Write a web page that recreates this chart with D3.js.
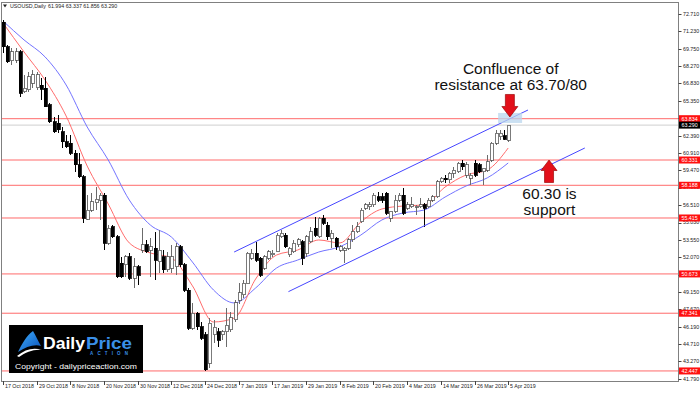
<!DOCTYPE html>
<html><head><meta charset="utf-8">
<script src="https://cdn.jsdelivr.net/npm/d3@7"></script>
<style>
body{margin:0;background:#fff}
svg{display:block}
text{font-family:"Liberation Sans",Arial,sans-serif}
</style>
</head><body>
<svg id="c" width="700" height="393"></svg>
<script>
// ---------------- DATA ----------------
const symbolTitle = "USOUSD,Daily";
const lastOHLC = [61.994, 63.337, 61.856, 63.290];

const open = [72.03,69.94,68.73,68.81,69.51,66.12,66.27,66.83,66.44,66.69,
66.41,65.00,63.58,63.44,62.73,61.88,61.75,60.89,59.91,58.92,
55.30,56.09,56.71,56.94,57.36,53.27,54.68,53.83,51.57,51.43,
52.13,50.30,51.29,52.70,53.13,52.70,52.85,51.71,52.13,51.01,
51.15,51.29,52.98,51.43,49.31,46.06,47.33,46.20,45.50,43.12,
45.50,45.75,45.50,45.75,45.92,46.77,48.46,48.89,49.90,52.00,
52.42,52.00,51.15,52.00,52.28,52.56,53.83,53.97,52.28,52.56,
53.13,53.40,52.42,53.40,54.54,53.83,55.39,54.82,53.69,53.69,
52.70,52.70,52.85,53.55,54.25,55.10,56.24,56.37,56.52,57.22,
57.22,57.51,55.39,55.95,56.94,57.36,56.24,56.37,56.37,56.37,
56.52,56.37,56.94,57.22,58.49,58.78,58.64,59.20,59.34,60.05,
59.06,58.78,60.05,59.91,59.34,59.48,60.33,61.75,62.31,62.39,
61.994];
const high = [72.20,70.08,69.83,69.83,69.66,67.54,67.82,67.96,67.82,67.26,
67.40,65.14,64.00,64.15,63.16,62.45,62.45,61.18,60.89,59.06,
57.36,57.51,58.07,57.51,57.51,54.82,54.82,53.97,52.13,52.28,
52.42,52.00,51.43,54.54,53.55,53.69,54.25,54.40,52.70,52.56,
53.13,53.27,53.13,51.57,49.45,48.18,47.47,46.62,45.78,46.94,
46.77,46.09,45.92,47.78,47.45,48.46,49.90,50.16,52.56,52.76,
53.40,52.13,52.28,52.70,52.70,54.12,54.40,54.12,52.98,53.55,
53.69,53.55,53.97,54.68,55.52,55.52,55.67,55.10,54.40,53.83,
53.13,52.98,53.69,54.82,55.10,56.24,56.66,56.80,57.51,57.64,
57.51,57.64,55.95,57.36,57.51,57.93,56.80,57.22,56.52,57.08,
56.66,57.08,57.36,58.64,58.92,59.06,59.34,59.76,60.19,60.33,
60.19,59.20,60.33,60.05,59.63,60.76,61.88,62.88,62.88,62.88,
63.337];
const low = [69.40,68.53,68.39,68.56,65.70,65.99,66.12,66.41,66.27,65.42,
64.80,63.44,62.65,62.60,61.32,61.32,60.76,59.34,58.78,54.97,
55.25,55.95,56.09,55.25,52.70,53.13,53.69,50.30,50.30,50.44,
50.16,49.45,49.73,52.42,52.42,50.44,50.16,50.73,50.73,50.86,
50.73,50.58,51.29,49.17,45.92,45.92,45.92,45.07,42.45,42.70,
44.82,44.48,45.07,44.48,45.75,46.60,48.12,48.63,49.90,51.85,
51.71,50.44,51.01,51.85,52.13,52.56,53.69,52.85,52.13,52.42,
52.98,51.43,52.13,53.27,53.83,53.69,54.82,53.55,52.85,52.70,
52.56,51.57,52.70,53.40,54.12,54.97,56.09,56.09,56.37,56.80,
56.66,55.67,55.10,55.81,56.80,55.67,56.09,56.24,55.67,56.24,
54.68,56.24,56.80,57.08,58.36,58.36,58.36,58.78,59.20,59.48,
58.78,58.21,58.92,59.20,58.21,59.34,60.19,61.60,62.03,62.03,
61.856];
const close = [69.94,68.67,69.49,69.49,65.99,66.41,67.40,67.54,67.54,66.35,
64.85,63.58,62.73,62.88,61.88,61.46,60.89,59.91,58.92,55.39,
56.09,56.80,57.00,57.36,53.27,54.54,53.83,50.44,50.44,52.13,
50.30,51.29,50.58,53.13,52.56,52.98,51.85,52.70,51.01,52.13,
52.13,52.98,51.43,49.31,46.06,47.33,46.20,45.22,42.53,46.51,
46.17,45.07,45.75,46.34,46.94,48.21,49.06,49.90,52.42,52.42,
51.85,50.58,52.13,52.56,52.42,53.97,54.12,52.98,52.85,53.27,
53.55,52.00,53.83,54.25,53.97,55.39,54.97,53.83,54.12,52.98,
52.98,52.85,53.55,54.25,54.68,56.09,56.52,56.52,57.36,56.94,
56.94,55.81,55.95,56.94,57.36,55.81,56.52,56.52,56.39,56.52,
56.24,56.94,57.22,58.49,58.78,58.64,59.20,59.48,60.05,59.76,
59.91,59.06,59.06,59.34,59.63,60.19,61.75,62.60,62.60,62.09,
63.290];

// moving averages sampled every 5 bars
const maIdx  = [0,5,10,15,20,25,30,35,40,45,50,55,60,65,70,75,80,85,90,95,100,105,110,115,120];
const maFast = [71.95,69.49,67.11,64.06,59.82,56.60,53.30,52.45,52.03,49.66,46.60,46.94,50.24,52.28,52.70,53.55,53.30,55.08,56.18,56.43,56.52,58.04,59.06,59.48,61.35];
const maSlow = [72.12,70.51,69.07,66.69,63.13,60.33,56.94,54.82,53.80,51.68,49.31,48.21,49.48,51.18,51.85,52.53,52.98,53.97,55.25,55.84,56.09,57.19,58.13,58.81,60.08];

// horizontal levels
const levels = [63.834, 60.331, 58.188, 55.415, 50.673, 47.341, 42.447];
const currentPrice = 63.290;

// axis ticks
const yTicks = [72.710,71.230,69.750,68.270,66.830,65.350,63.870,62.390,60.910,59.470,57.990,56.510,55.030,53.550,52.070,50.590,49.150,47.670,46.190,44.710,43.270,41.790];
const xLabelIdx = [0,8,16,24,32,40,48,56,64,72,80,88,96,104,112,120];
const xLabels = ["17 Oct 2018","29 Oct 2018","8 Nov 2018","20 Nov 2018","30 Nov 2018","12 Dec 2018","24 Dec 2018","7 Jan 2019","17 Jan 2019","29 Jan 2019","8 Feb 2019","20 Feb 2019","4 Mar 2019","14 Mar 2019","26 Mar 2019","5 Apr 2019"];

// channel trend lines [barIndex, price]
const upperChannel = [[54.9, 52.53],[124.7, 64.57]];
const lowerChannel = [[67.8, 49.17],[138.2, 61.35]];
// resistance zone box [barFrom, barTo, priceLow, priceHigh]
const zoneBox = [117.6, 123.3, 63.47, 64.32];
// arrows: tip [barIndex, price]
const downArrowTip = [120.4, 63.98];
const upArrowTip = [129.7, 60.33];
const note1 = ["Confluence of","resistance at 63.70/80"];
const note1Pos = [120.6, 67.66];
const note2 = ["60.30 is","support"];
const note2Pos = [129.8, 57.05];

// ---------------- CHART ----------------
const svg = d3.select("#c");
const L = 1, T = 2, R = 678.5, B = 381;
const x = d3.scaleLinear().domain([0,120]).range([3, 508.2]);
const y = d3.scaleLinear().domain([41.79, 72.71]).range([378.7, 14]);

svg.append("rect").attr("width",700).attr("height",393).attr("fill","#fff");

const plot = svg.append("g");
plot.append("clipPath").attr("id","clip").append("rect")
  .attr("x",L).attr("y",T).attr("width",R-L).attr("height",B-T);
const g = plot.append("g").attr("clip-path","url(#clip)");

// level lines
g.selectAll("line.lvl").data(levels).join("line")
  .attr("x1",L).attr("x2",R)
  .attr("y1",d=>y(d)).attr("y2",d=>y(d))
  .attr("stroke","#ff6a6a").attr("stroke-width",1);
g.append("line").attr("x1",L).attr("x2",R)
  .attr("y1",y(currentPrice)).attr("y2",y(currentPrice))
  .attr("stroke","#cfcfcf").attr("stroke-width",1);

// MAs
const maLine = arr => d3.line().curve(d3.curveMonotoneX)
  .x((d,i)=>x(maIdx[i])).y(d=>y(d))(arr);
g.append("path").attr("d",maLine(maSlow)).attr("fill","none").attr("stroke","#7373ff").attr("stroke-width",1);
g.append("path").attr("d",maLine(maFast)).attr("fill","none").attr("stroke","#ff6c6c").attr("stroke-width",1);

// candles
const idx = d3.range(open.length);
const cg = g.append("g").attr("shape-rendering","crispEdges");
cg.selectAll("line.wick").data(idx).join("line")
  .attr("x1",i=>Math.round(x(i))+0.5).attr("x2",i=>Math.round(x(i))+0.5)
  .attr("y1",i=>y(high[i])).attr("y2",i=>y(low[i]))
  .attr("stroke",i=>close[i]>=open[i]?"#6b6b6b":"#000").attr("stroke-width",1);
cg.selectAll("rect.body").data(idx).join("rect")
  .attr("x",i=>Math.round(x(i))-1)
  .attr("width",3)
  .attr("y",i=>y(Math.max(open[i],close[i])))
  .attr("height",i=>Math.max(1,Math.abs(y(open[i])-y(close[i]))))
  .attr("fill",i=>close[i]>=open[i]?"#fff":"#000")
  .attr("stroke",i=>close[i]>=open[i]?"#5a5a5a":"#000")
  .attr("stroke-width",0.8);

// channels
[upperChannel, lowerChannel].forEach(c=>{
  g.append("line").attr("x1",x(c[0][0])).attr("y1",y(c[0][1]))
   .attr("x2",x(c[1][0])).attr("y2",y(c[1][1]))
   .attr("stroke","#4646ff").attr("stroke-width",1);
});

// zone box
g.append("rect").attr("x",x(zoneBox[0])).attr("width",x(zoneBox[1])-x(zoneBox[0]))
  .attr("y",y(zoneBox[3])).attr("height",y(zoneBox[2])-y(zoneBox[3]))
  .attr("fill","#b9d5ee").attr("opacity",0.75);

// arrows
function arrow(tx, ty, dir){ // dir 1 = down (tip at bottom), -1 = up
  const hw = 8, sw = 4.5, hh = 10.5, sh = 12;
  const pts = [[0,0],[-hw,-hh],[-sw,-hh],[-sw,-hh-sh],[sw,-hh-sh],[sw,-hh],[hw,-hh]]
    .map(p=>[tx+p[0], ty+p[1]*dir]);
  svg.append("polygon").attr("points",pts.map(p=>p.join(",")).join(" "))
    .attr("fill","#e3101a").attr("stroke","#9c0a0a").attr("stroke-width",0.7);
}
arrow(x(downArrowTip[0]), y(downArrowTip[1]), 1);
arrow(x(upArrowTip[0]), y(upArrowTip[1]), -1);

// notes
const n1 = svg.append("text").attr("text-anchor","middle").attr("font-size",15.5).attr("fill","#111");
note1.forEach((t,k)=>n1.append("tspan").attr("x",x(note1Pos[0])).attr("y",y(note1Pos[1])+k*16.5).text(t));
const n2 = svg.append("text").attr("text-anchor","middle").attr("font-size",15.5).attr("fill","#111");
note2.forEach((t,k)=>n2.append("tspan").attr("x",x(note2Pos[0])).attr("y",y(note2Pos[1])+k*16.5).text(t));

// frame
svg.append("rect").attr("x",L+0.5).attr("y",T+0.5).attr("width",R-L-1).attr("height",B-T-0.5)
  .attr("fill","none").attr("stroke","#808080").attr("stroke-width",1).attr("shape-rendering","crispEdges");

// y axis
const ya = svg.append("g");
yTicks.forEach(v=>{
  ya.append("line").attr("x1",R).attr("x2",R+3).attr("y1",Math.round(y(v))+0.5).attr("y2",Math.round(y(v))+0.5).attr("stroke","#444");
  ya.append("text").attr("x",683).attr("y",y(v)+1.8).attr("font-size",5.3).attr("fill","#222").text(v.toFixed(3));
});
levels.forEach(v=>{
  ya.append("rect").attr("x",R+0.5).attr("y",y(v)-3.5).attr("width",21).attr("height",7).attr("fill","#ff1010");
  ya.append("text").attr("x",681.5).attr("y",y(v)+1.9).attr("font-size",5.3).attr("fill","#fff").text(v.toFixed(3));
});
ya.append("rect").attr("x",R+0.5).attr("y",y(currentPrice)-3.5).attr("width",21).attr("height",7).attr("fill","#000");
ya.append("text").attr("x",681.5).attr("y",y(currentPrice)+1.9).attr("font-size",5.3).attr("fill","#fff").text(currentPrice.toFixed(3));

// x axis
const xa = svg.append("g");
xLabelIdx.forEach((bi,k)=>{
  const xx = Math.round(x(bi))+0.5;
  xa.append("line").attr("x1",xx).attr("x2",xx).attr("y1",B).attr("y2",B+4).attr("stroke","#444");
  xa.append("text").attr("x",xx+1.5).attr("y",388).attr("font-size",5.3).attr("fill","#222").text(xLabels[k]);
});

// header
svg.append("polygon").attr("points","3,4.5 7,4.5 5,7.5").attr("fill","#222");
svg.append("text").attr("x",10).attr("y",8).attr("font-size",5.3).attr("fill","#222").text(symbolTitle);
svg.append("text").attr("x",48).attr("y",8).attr("font-size",5.3).attr("fill","#222").text(lastOHLC.map(v=>v.toFixed(3)).join(" "));

// logo
const lg = svg.append("g");
lg.append("rect").attr("x",9).attr("y",325).attr("width",134).attr("height",48).attr("fill","#000");
const defs = svg.append("defs");
const gr = defs.append("linearGradient").attr("id","sail").attr("x1","0").attr("y1","0").attr("x2","1").attr("y2","1");
gr.append("stop").attr("offset","0").attr("stop-color","#3fb0ff");
gr.append("stop").attr("offset","1").attr("stop-color","#0a4fb5");
lg.append("path").attr("d","M18,352 C22,344 26,336 33,331 C36,336 38,341 41,346 C34,344 26,347 18,352 Z").attr("fill","url(#sail)");
lg.append("path").attr("d","M17,356 C25,349 34,347 42,350 C34,349 26,352 19,357 Z").attr("fill","#fff");
lg.append("text").attr("x",43).attr("y",349).attr("font-size",16.5).attr("font-weight","bold").attr("fill","#fff")
  .attr("textLength",42).attr("lengthAdjust","spacingAndGlyphs").text("Daily");
lg.append("text").attr("x",86).attr("y",349).attr("font-size",16.5).attr("font-weight","bold").attr("fill","#3a8fe8")
  .attr("textLength",46).attr("lengthAdjust","spacingAndGlyphs").text("Price");
lg.append("text").attr("x",90).attr("y",355).attr("font-size",4.5).attr("font-weight","bold").attr("fill","#3a8fe8")
  .attr("textLength",38).attr("lengthAdjust","spacing").text("ACTION");
lg.append("text").attr("x",15).attr("y",369).attr("font-size",8).attr("fill","#fff")
  .attr("textLength",122).attr("lengthAdjust","spacingAndGlyphs").text("Copyright - dailypriceaction.com");
</script>
</body></html>
